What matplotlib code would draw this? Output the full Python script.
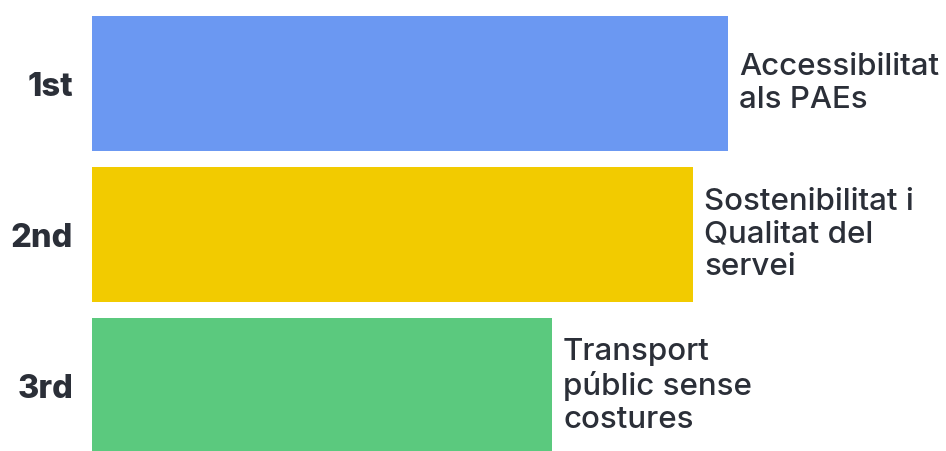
import matplotlib.pyplot as plt

ranks = ['1st', '2nd', '3rd']
topics = ['Accessibilitat\nals PAEs',
          'Sostenibilitat i\nQualitat del\nservei',
          'Transport\npúblic sense\ncostures']
scores = [90.9, 85.9, 65.7]
colors = ['#6B98F2', '#F2CB00', '#5BC97E']

text_color = '#2B2F38'
plt.rcParams['font.family'] = ['Inter', 'DejaVu Sans']

fig = plt.figure(figsize=(9.46, 4.51), dpi=100)
# axes placed in pixel terms: bars start at x=92, 100 units = 700 px
ax = fig.add_axes([92 / 946, 0, 700 / 946, 1])

positions = list(range(len(ranks)))
bars = ax.barh(positions, scores, height=0.895, color=colors)

ax.set_xlim(0, 100)
ax.set_ylim(2.43, -0.553)

# rank labels on the left
ax.set_yticks(positions, ranks)
ax.tick_params(axis='y', length=0, pad=13.5, labelsize=23.5, labelcolor=text_color)
for lbl in ax.get_yticklabels():
    lbl.set_fontweight('heavy')
ax.set_xticks([])
for s in ax.spines.values():
    s.set_visible(False)

# topic label after each bar
for bar, topic in zip(bars, topics):
    ax.annotate(topic, (bar.get_width(), bar.get_y() + bar.get_height() / 2),
                xytext=(8, 0), textcoords='offset points',
                va='center', ha='left', fontsize=22.5, color=text_color,
                fontweight='medium', linespacing=1.2)

fig.savefig('out.png', dpi=100, facecolor='white')
